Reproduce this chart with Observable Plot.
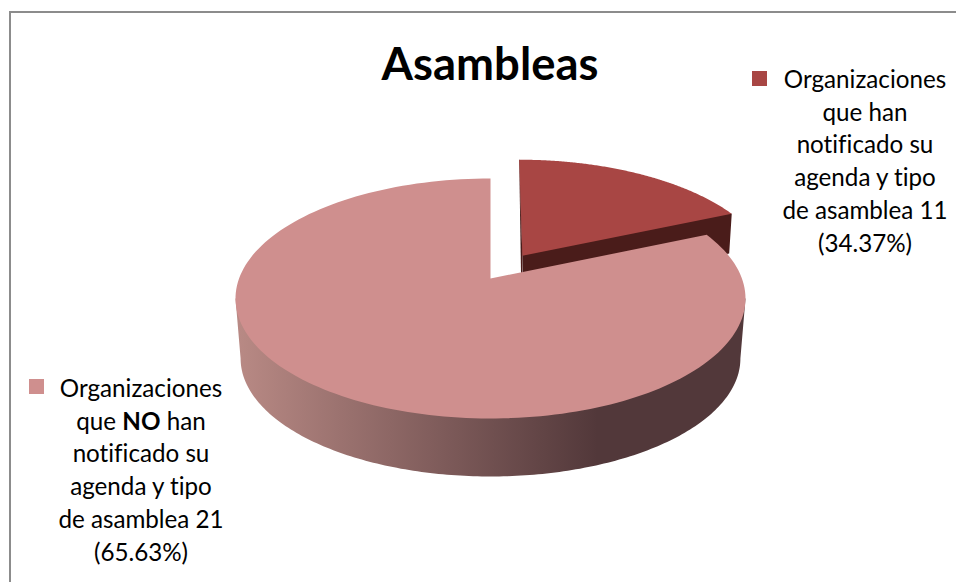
<!DOCTYPE html>
<html lang="es">
<head>
<meta charset="utf-8">
<script src="https://cdn.jsdelivr.net/npm/d3@7"></script>
<script src="https://cdn.jsdelivr.net/npm/@observablehq/plot@0.6"></script>
<style>
  html, body { margin: 0; padding: 0; background: #fff; overflow: hidden; }
  #page { position: relative; width: 956px; height: 582px; font-family: Lato, "Open Sans", sans-serif; color: #000; font-variant-ligatures: none; }
  #page svg { position: absolute; left: 0; top: 0; }
  #frame { position: absolute; left: 9px; top: 11px; right: 0; bottom: 0; border-left: 2px solid #8c8c8c; border-top: 2px solid #8c8c8c; }
  h1 { position: absolute; margin: 0; left: 290px; width: 400px; top: 38px; text-align: center; font-size: 45.4px; line-height: 50px; font-weight: 700; }
  .legend { position: absolute; text-align: center; font-size: 24.2px; line-height: 32.7px; white-space: nowrap; }
  .swatch { position: absolute; width: 15px; height: 15px; }
</style>
</head>
<body>
<div id="page"></div>
<script>
// Chart content
const chartTitle = "Asambleas";
const sliceNames = ["Notificaron", "No notificaron"];
const counts = [11, 21];
const percents = ["34.37%", "65.63%"];
// Share of the circle each slice covers as drawn in the picture
const drawnShares = [16.1, 83.9];
const topColors = ["#a84644", "#cf8f8e"];
const sideDark = "#4a1c1a";
const sideStops = [[0, "#b98a85"], [0.71, "#52383a"], [1, "#52383a"]];

// Pie model in unit coordinates: the rim is an ellipse with radius 1 on each axis
const apexY = 0.167;          // perspective centre of the disc
const rimDrop = 0.5;          // thickness of the disc
const rimShrink = 0.98;       // lower rim is slightly narrower
const explode = {dx: 0.125, dy: 0.19, scaleX: 0.975, scaleY: 0.96, lean: 0.015, drop: 0.33};

const rad = s => (s / 100) * 2 * Math.PI;
const arc = (a0, a1, n = 180) => d3.range(n + 1).map(i => {
  const t = a0 + (a1 - a0) * i / n;
  return {x: Math.sin(t), y: Math.cos(t)};
});
const split = rad(drawnShares[0]);

// large slice
const bigTop = [{x: 0, y: apexY}, ...arc(split, 2 * Math.PI)];
const bigSide = [
  {x: 1, y: 0},
  ...arc(Math.PI / 2, 3 * Math.PI / 2).map(p => ({x: p.x * rimShrink, y: p.y * 0.983 - rimDrop})),
  {x: -1, y: 0}
];
// small, pulled-out slice
const moved = p => ({
  x: p.x * explode.scaleX + explode.dx - (p.y - apexY) * explode.lean,
  y: (p.y - apexY) * explode.scaleY + apexY + explode.dy
});
const smallTop = [{x: 0, y: apexY}, ...arc(0, split)].map(moved);
const apex = smallTop[0], rimStart = smallTop[1], rimEnd = smallTop[smallTop.length - 1];
const smallSide = [
  rimStart, apex,
  {x: apex.x, y: apex.y - explode.drop},
  {x: rimEnd.x - 0.01, y: rimEnd.y - explode.drop},
  rimEnd
];
const smallLeft = [rimStart, apex, {x: apex.x - 0.004, y: apex.y - explode.drop}];

const shape = (pts, fill) => Plot.line(pts, {x: "x", y: "y", fill, stroke: "none", curve: "linear"});

const gradient = () => {
  const defs = d3.create("svg:defs");
  const g = defs.append("linearGradient").attr("id", "rim").attr("x1", 0).attr("x2", 1).attr("y1", 0).attr("y2", 0);
  sideStops.forEach(([o, c]) => g.append("stop").attr("offset", o).attr("stop-color", c));
  return defs.node();
};

const chart = Plot.plot({
  width: 956,
  height: 582,
  margin: 0,
  style: {background: "transparent"},
  x: {domain: [-1, 1], range: [235, 745], axis: null},
  y: {domain: [-1, 1], range: [418, 178], axis: null},
  marks: [
    gradient,
    shape(smallLeft, sideDark),
    shape(smallSide, sideDark),
    shape(smallTop, topColors[0]),
    shape(bigSide, "url(#rim)"),
    shape(bigTop, topColors[1])
  ]
});

const page = document.getElementById("page");
page.append(chart);
const add = (tag, cls, css, html) => {
  const el = document.createElement(tag);
  if (cls) el.className = cls;
  if (css) el.style.cssText = css;
  if (html) el.innerHTML = html;
  page.append(el);
};
add("div", "", "", "");
page.lastChild.id = "frame";
add("h1", "", "", chartTitle);
add("span", "swatch", `left:752px;top:71px;background:${topColors[0]}`);
add("span", "swatch", `left:29px;top:379px;background:${topColors[1]}`);
add("div", "legend", "left:765px;width:200px;top:63px",
  `Organizaciones<br>que han<br>notificado su<br>agenda y tipo<br>de asamblea ${counts[0]}<br>(${percents[0]})`);
add("div", "legend", "left:41px;width:200px;top:372px",
  `Organizaciones<br>que <b>NO</b> han<br>notificado su<br>agenda y tipo<br>de asamblea ${counts[1]}<br>(${percents[1]})`);
</script>
</body>
</html>
